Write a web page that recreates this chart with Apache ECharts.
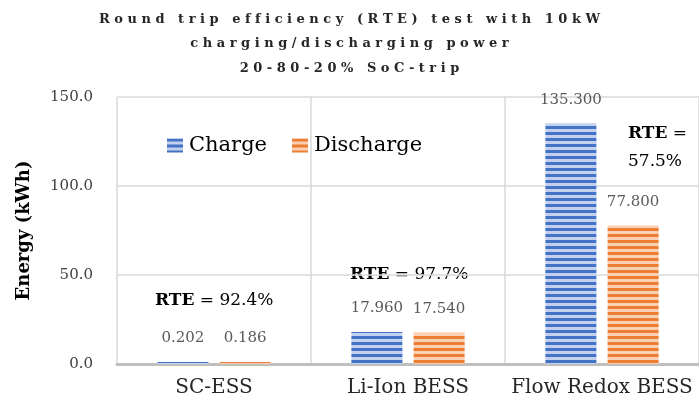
<!DOCTYPE html>
<html>
<head>
<meta charset="utf-8">
<script src="https://cdn.jsdelivr.net/npm/echarts@6/dist/echarts.min.js"></script>
<style>
  html, body { margin: 0; padding: 0; background: #fff; }
  #main { width: 699px; height: 412px; }
</style>
</head>
<body>
<div id="main"></div>
<script>
// values
var categories = ["SC-ESS", "Li-Ion BESS", "Flow Redox BESS"];
var chargeValues = [0.202, 17.960, 135.300];
var dischargeValues = [0.186, 17.540, 77.800];
var rteValues = ["92.4%", "97.7%", "57.5%"];
var yTicks = { min: 0, max: 150, interval: 50 };

var serif = "DejaVu Serif";
var titleLines = [
  "Round trip efficiency (RTE) test with 10kW",
  "charging/discharging power",
  "20-80-20% SoC-trip",
];

// letter spaced title like the original
function spaced(s) {
  return s.split("").join(" ");
}

function stripes(dark, light) {
  var c = document.createElement("canvas");
  c.width = 6;
  c.height = 6;
  var ctx = c.getContext("2d");
  ctx.fillStyle = light;
  ctx.fillRect(0, 0, 6, 6);
  ctx.fillStyle = dark;
  ctx.fillRect(0, 0, 6, 3);
  return { image: c, repeat: "repeat" };
}

var blue = stripes("#4472C4", "#c3d1ee");
var orange = stripes("#ED7D31", "#f9d0b3");

var labelStyle = {
  show: true,
  position: "top",
  distance: 16,
  color: "#595959",
  fontFamily: serif,
  fontSize: 15,
  formatter: function (p) {
    return p.value.toFixed(3);
  },
};

function rteText(left, top, txt, extra) {
  return {
    type: "text",
    left: left,
    top: top,
    style: Object.assign({
      text: txt,
      fontFamily: serif,
      fontSize: 17,
      fill: "#000",
      rich: { b: { fontFamily: serif, fontSize: 17, fontWeight: "bold", fill: "#000", lineHeight: 28 } },
    }, extra || {}),
  };
}

var myChart = echarts.init(document.getElementById("main"));
var option = {
  backgroundColor: "#fff",
  animation: false,
  title: {
    text: titleLines.map(spaced).join("\n"),
    left: "center",
    top: 2,
    textStyle: {
      fontFamily: serif,
      fontSize: 13,
      fontWeight: "bold",
      color: "#262626",
      lineHeight: 24.5,
    },
  },
  legend: {
    left: 167,
    top: 135,
    padding: 0,
    icon: "rect",
    itemWidth: 16,
    itemHeight: 14,
    itemGap: 25,
    textStyle: { fontFamily: serif, fontSize: 21, color: "#000", padding: [0, 0, 0, 1] },
    data: ["Charge", "Discharge"],
  },
  grid: {
    left: 117,
    right: -3,
    top: 97,
    bottom: 48,
  },
  xAxis: {
    type: "category",
    data: categories,
    axisLine: { lineStyle: { color: "#bfbfbf", width: 3 } },
    axisTick: { show: false },
    splitLine: { show: true, interval: 0, lineStyle: { color: "#d9d9d9", width: 1.5 } },
    axisLabel: {
      interval: 0,
      margin: 14,
      fontFamily: serif,
      fontSize: 20,
      color: "#262626",
    },
  },
  yAxis: {
    type: "value",
    min: yTicks.min,
    max: yTicks.max,
    interval: yTicks.interval,
    name: "Energy (kWh)",
    nameLocation: "middle",
    nameGap: 84,
    nameTextStyle: {
      fontFamily: serif,
      fontSize: 18,
      fontWeight: "bold",
      color: "#000",
    },
    axisLine: { show: false },
    axisTick: { show: false },
    splitLine: { lineStyle: { color: "#d9d9d9", width: 1.5 } },
    axisLabel: {
      margin: 24,
      fontFamily: serif,
      fontSize: 15,
      color: "#404040",
      formatter: function (v) {
        return v.toFixed(1);
      },
    },
  },
  series: [
    {
      name: "Charge",
      type: "bar",
      barWidth: 51,
      barGap: "22%",
      barMinHeight: 2,
      itemStyle: { color: blue },
      label: labelStyle,
      data: chargeValues,
    },
    {
      name: "Discharge",
      type: "bar",
      barWidth: 51,
      barMinHeight: 2,
      itemStyle: { color: orange },
      label: labelStyle,
      data: dischargeValues,
    },
  ],
  graphic: [
    rteText(155, 292, "{b|RTE} = " + rteValues[0]),
    rteText(350, 266, "{b|RTE} = " + rteValues[1]),
    rteText(628, 120, "{b|RTE} =\n" + rteValues[2], { lineHeight: 28 }),
  ],
};
myChart.setOption(option);
</script>
</body>
</html>
